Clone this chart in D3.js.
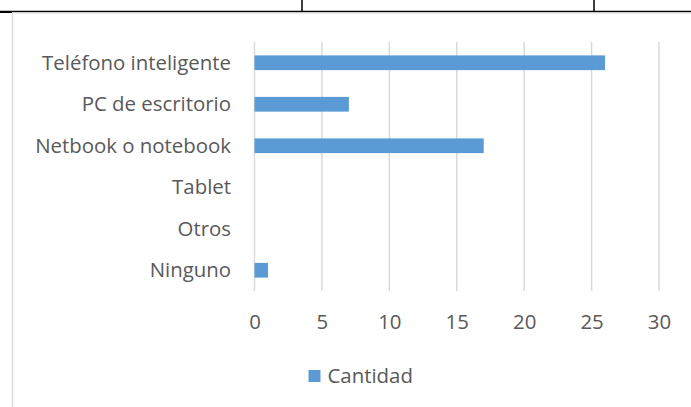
<!DOCTYPE html>
<html><head><meta charset="utf-8">
<script src="https://cdn.jsdelivr.net/npm/d3@7"></script>
<style>html,body{margin:0;padding:0;background:#fff;}svg{display:block;}</style>
</head><body>
<svg id="c" width="691" height="407"></svg>
<script>
const categories = ["Teléfono inteligente","PC de escritorio","Netbook o notebook","Tablet","Otros","Ninguno"];
const values = [26, 7, 17, 0, 0, 1];
const xTicks = [0, 5, 10, 15, 20, 25, 30];
const seriesName = "Cantidad";

const svg = d3.select("#c");
const font = "'Open Sans', sans-serif";
const fs = "20.4px";
const txt = "#595959";

// table borders
svg.append("line").attr("x1",0).attr("x2",691).attr("y1",11.5).attr("y2",11.5).attr("stroke","#000").attr("stroke-width",1.3);
svg.append("rect").attr("x",0).attr("y",11).attr("width",12).attr("height",2).attr("fill","#000");
svg.append("line").attr("x1",302).attr("x2",302).attr("y1",0).attr("y2",11).attr("stroke","#000").attr("stroke-width",1.5);
svg.append("line").attr("x1",594).attr("x2",594).attr("y1",0).attr("y2",11).attr("stroke","#000").attr("stroke-width",1.5);
// chart frame
svg.append("line").attr("x1",12.5).attr("x2",12.5).attr("y1",13).attr("y2",407).attr("stroke","#d9d9d9").attr("stroke-width",1.3);
svg.append("line").attr("x1",12.5).attr("x2",691).attr("y1",13).attr("y2",13).attr("stroke","#d9d9d9").attr("stroke-width",1);

const x = d3.scaleLinear().domain([0,30]).range([254.5,659]);
const y = d3.scaleBand().domain(categories).range([42,291]).paddingInner(0.645).paddingOuter(0.3225);

// gridlines
svg.append("g").selectAll("line").data(xTicks).join("line")
  .attr("x1",d=>x(d)).attr("x2",d=>x(d)).attr("y1",42).attr("y2",291)
  .attr("stroke","#d9d9d9").attr("stroke-width",1.5);

// bars
svg.append("g").selectAll("rect").data(categories).join("rect")
  .attr("x",x(0)).attr("y",d=>y(d))
  .attr("width",(d,i)=>x(values[i])-x(0)).attr("height",y.bandwidth())
  .attr("fill","#5b9bd5");

// x axis labels
const xAxis = d3.axisBottom(x).tickValues(xTicks).tickSize(0).tickPadding(0);
const gx = svg.append("g").attr("transform","translate(0,322)").call(xAxis);
gx.select(".domain").remove();
gx.selectAll("text").attr("fill",txt).style("font-family",font).style("font-size",fs).attr("dy","0.35em");

// y axis labels
const yAxis = d3.axisLeft(y).tickSize(0).tickPadding(0);
const gy = svg.append("g").attr("transform","translate(231,0)").call(yAxis);
gy.select(".domain").remove();
gy.selectAll("text").attr("fill",txt).style("font-family",font).style("font-size",fs).attr("dy","0.35em");

// legend
svg.append("rect").attr("x",308.5).attr("y",370).attr("width",12).attr("height",12).attr("fill","#5b9bd5");
svg.append("text").attr("x",327.5).attr("y",376).attr("dy","0.35em").attr("fill",txt)
  .style("font-family",font).style("font-size",fs).text(seriesName);
</script>
</body></html>
